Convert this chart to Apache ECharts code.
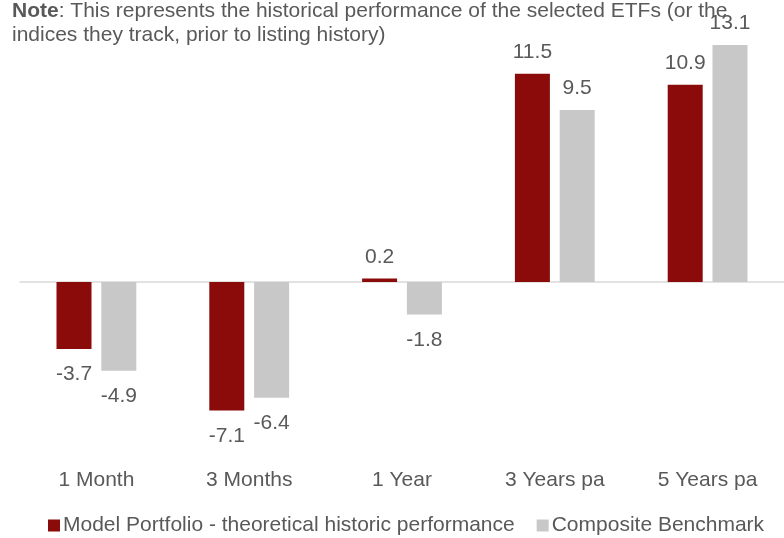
<!DOCTYPE html>
<html>
<head>
<meta charset="utf-8">
<script src="https://cdn.jsdelivr.net/npm/echarts@6/dist/echarts.min.js"></script>
<style>
  html, body { margin: 0; padding: 0; background: #fff; }
  #chart { width: 784px; height: 538px; }
</style>
</head>
<body>
<div id="chart"></div>
<script>
var periods = ['1 Month', '3 Months', '1 Year', '3 Years pa', '5 Years pa'];
var modelValues = [-3.7, -7.1, 0.2, 11.5, 10.9];
var benchValues = [-4.9, -6.4, -1.8, 9.5, 13.1];
var seriesNames = ['Model Portfolio - theoretical historic performance', 'Composite Benchmark'];

var font = 'Liberation Sans, Arial, sans-serif';
var textColor = '#595959';

function withLabels(values) {
    return values.map(function (v) {
        return {
            value: v,
            label: v < 0 ? { position: 'bottom', distance: 15 } : { position: 'top', distance: 11 }
        };
    });
}

var myChart = echarts.init(document.getElementById('chart'));

option = {
    animation: false,
    title: {
        text: '{b|Note}: This represents the historical performance of the selected ETFs (or the\nindices they track, prior to listing history)',
        left: 7,
        top: -6,
        textStyle: {
            fontFamily: font,
            fontSize: 21,
            fontWeight: 'normal',
            color: textColor,
            lineHeight: 24,
            rich: {
                b: { fontFamily: font, fontSize: 21, fontWeight: 'bold', color: textColor, lineHeight: 24 }
            }
        }
    },
    legend: {
        data: seriesNames,
        bottom: -3,
        left: 43,
        itemWidth: 12,
        itemHeight: 12,
        itemGap: 22,
        icon: 'rect',
        textStyle: { fontFamily: font, fontSize: 21, color: textColor, padding: [0, 0, 0, -2] }
    },
    grid: { left: 20, right: -6, top: 28.6, bottom: 75 },
    xAxis: {
        type: 'category',
        data: periods,
        axisLine: { onZero: true, lineStyle: { color: '#d9d9d9', width: 1.5 } },
        axisTick: { show: false },
        axisLabel: { fontFamily: font, fontSize: 21, color: textColor, margin: 7 }
    },
    yAxis: {
        type: 'value',
        min: -10,
        max: 14,
        show: false,
        splitLine: { show: false }
    },
    series: [
        {
            name: seriesNames[0],
            type: 'bar',
            data: withLabels(modelValues),
            barWidth: 35,
            barGap: '28%',
            itemStyle: { color: '#8b0b0b' },
            label: {
                show: true,
                fontFamily: font,
                fontSize: 21,
                color: textColor,
                formatter: function (p) { return p.value.toFixed(1); }
            }
        },
        {
            name: seriesNames[1],
            type: 'bar',
            data: withLabels(benchValues),
            barWidth: 35,
            barGap: '28%',
            itemStyle: { color: '#c8c8c8' },
            label: {
                show: true,
                fontFamily: font,
                fontSize: 21,
                color: textColor,
                formatter: function (p) { return p.value.toFixed(1); }
            }
        }
    ]
};

myChart.setOption(option);
</script>
</body>
</html>
